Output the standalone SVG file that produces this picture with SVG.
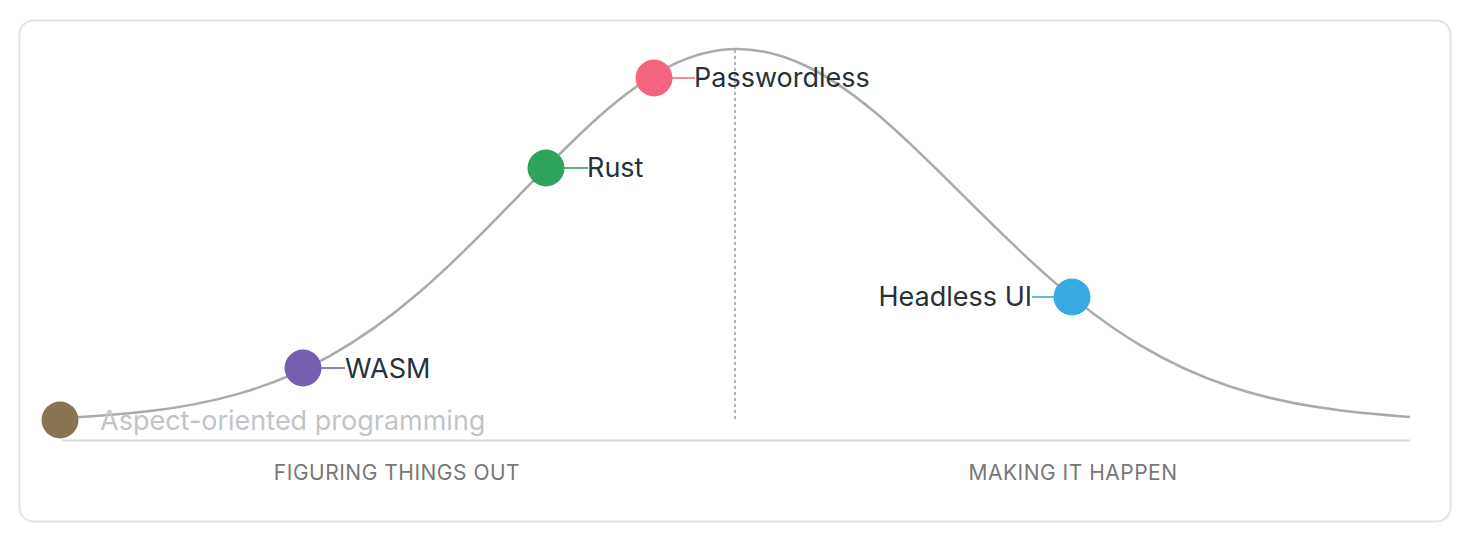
<svg xmlns="http://www.w3.org/2000/svg" width="1470" height="540" viewBox="0 0 1470 540">
<style>
.lbl{font-family:Inter,"Liberation Sans",sans-serif;font-size:27px;fill:#263238}
.faded{fill:#c2c5c8}
.phase{font-family:Inter,"Liberation Sans",sans-serif;font-size:21px;fill:#777;letter-spacing:0.5px}
.tick{stroke-width:1.6}
</style>
<rect x="19.5" y="20.5" width="1431" height="501" rx="14" fill="#fff" stroke="#e3e3e3" stroke-width="2"/>
<line x1="62" y1="440.5" x2="1410" y2="440.5" stroke="#dcdcdc" stroke-width="2"/>
<line x1="735" y1="50" x2="735" y2="422" stroke="#999" stroke-width="1.5" stroke-dasharray="3,3"/>
<g id="connectors">
<path d="M60,418 C90,416.72 120,414.77 150,411.1 C180,407.43 210,402.03 240,393.35 C270,384.67 300,372.63 330,355.9 C360,339.17 390,317.65 420,291.8 C450,265.95 480,235.7 510,204.7 C540,173.7 570,142.1 600,115.7 C623.33,95.17 646.67,77.77 670,66.1 C692.33,54.93 714.67,49 737,49 C759.67,49 782.33,54.77 805,65.5 C828.33,76.54 851.67,92.84 875,112.3 C903.33,135.93 931.67,164.12 960,192.4 C990,222.34 1020,252.18 1050,278.4 C1080,304.62 1110,327.13 1140,345.1 C1170,363.07 1200,376.51 1230,386.5 C1260,396.49 1290,403.01 1320,407.6 C1350,412.19 1380,414.86 1410,417" fill="none" stroke="#aaa" stroke-width="2.5"/>
</g>
<g id="node-aspect">
<circle cx="60" cy="420" r="18.5" fill="#8a7553"/>
<text class="lbl faded" x="100" y="430">Aspect-oriented programming</text>
</g>
<g id="node-wasm">
<line class="tick" x1="320" y1="368" x2="345" y2="368" stroke="#7560b0"/>
<circle cx="303" cy="368" r="18.5" fill="#7560b0"/>
<text class="lbl" x="345" y="378">WASM</text>
</g>
<g id="node-rust">
<line class="tick" x1="563" y1="168" x2="588" y2="168" stroke="#2ea35e"/>
<circle cx="546" cy="168" r="18.5" fill="#2ea35e"/>
<text class="lbl" x="587" y="177">Rust</text>
</g>
<g id="node-passwordless">
<line class="tick" x1="671" y1="78" x2="695" y2="78" stroke="#f4657f"/>
<circle cx="654" cy="78" r="18.5" fill="#f4657f"/>
<text class="lbl" x="694" y="87">Passwordless</text>
</g>
<g id="node-headless">
<line class="tick" x1="1032" y1="297" x2="1056" y2="297" stroke="#38a9de"/>
<circle cx="1072" cy="297" r="18.5" fill="#38a9de"/>
<text class="lbl" x="1032" y="306" text-anchor="end">Headless UI</text>
</g>
<g id="phases">
<text class="phase" x="397" y="480" text-anchor="middle">FIGURING THINGS OUT</text>
<text class="phase" x="1073" y="480" text-anchor="middle">MAKING IT HAPPEN</text>
</g>
</svg>
